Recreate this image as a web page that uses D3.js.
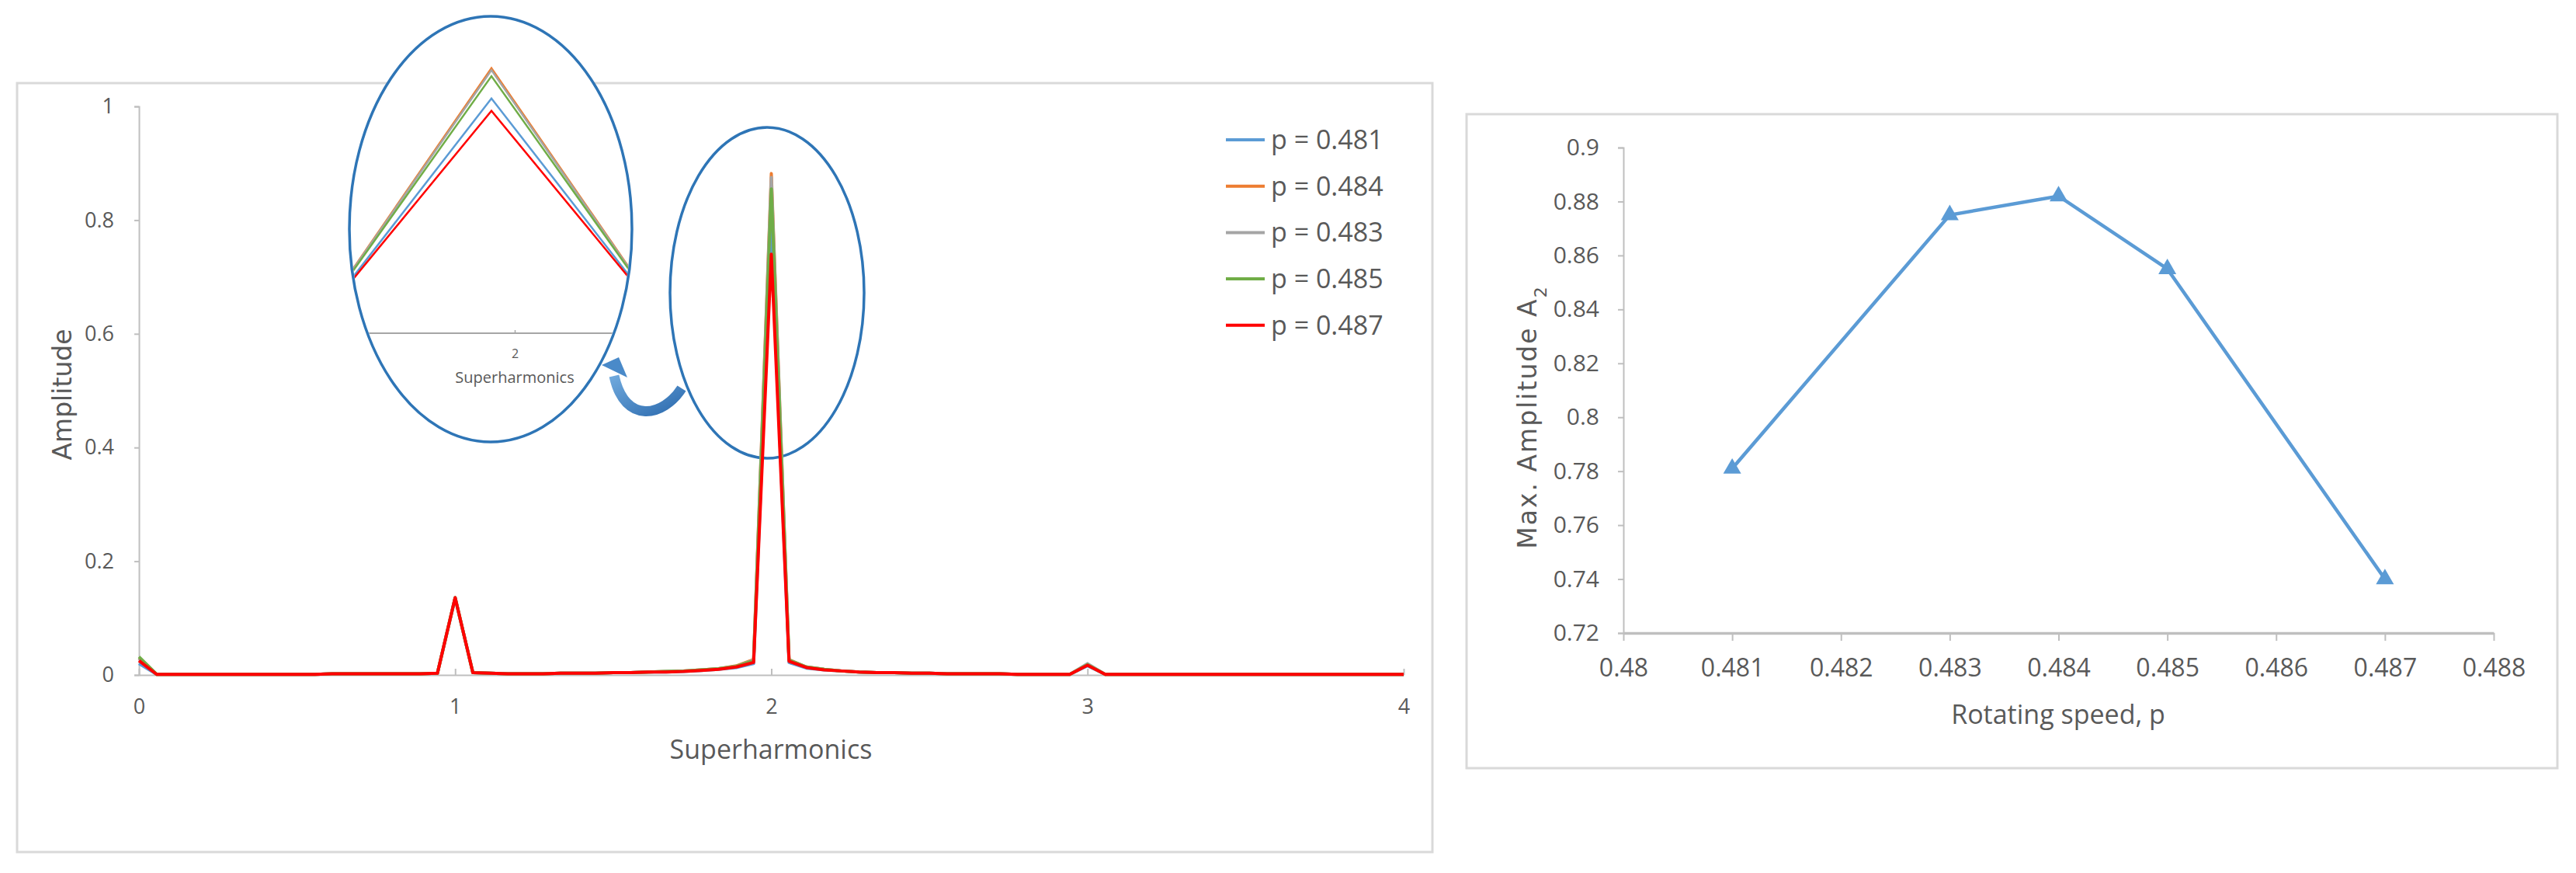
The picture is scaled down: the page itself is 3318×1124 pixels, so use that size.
<!DOCTYPE html>
<html><head><meta charset="utf-8">
<script src="https://cdn.jsdelivr.net/npm/d3@7"></script>
<style>
html,body{margin:0;padding:0;background:#fff;}
text{font-family:"Open Sans",sans-serif;fill:#595959;}
</style></head>
<body>
<script>
// ---------- DATA ----------
const harmonics = [0,0.056,0.111,0.167,0.222,0.278,0.333,0.389,0.444,0.5,0.556,0.611,0.667,0.722,0.778,0.833,0.889,0.944,1,1.056,1.111,1.167,1.222,1.278,1.333,1.389,1.444,1.5,1.556,1.611,1.667,1.722,1.778,1.833,1.889,1.944,2,2.056,2.111,2.167,2.222,2.278,2.333,2.389,2.444,2.5,2.556,2.611,2.667,2.722,2.778,2.833,2.889,2.944,3,3.056,3.111,3.167,3.222,3.278,3.333,3.389,3.444,3.5,3.556,3.611,3.667,3.722,3.778,3.833,3.889,3.944,4];

const amp481 = [0.020,0.001,0.001,0.001,0.001,0.001,0.001,0.001,0.001,0.001,0.001,0.002,0.002,0.002,0.002,0.002,0.002,0.003,0.135,0.004,0.003,0.002,0.002,0.002,0.003,0.003,0.003,0.004,0.004,0.005,0.005,0.006,0.008,0.010,0.013,0.020,0.781,0.022,0.012,0.009,0.007,0.005,0.004,0.004,0.003,0.003,0.002,0.002,0.002,0.002,0.001,0.001,0.001,0.001,0.016,0.001,0.001,0.001,0.001,0.001,0.001,0.001,0.001,0.001,0.001,0.001,0.001,0.001,0.001,0.001,0.001,0.001,0.001];
const amp484 = [0.030,0.001,0.001,0.001,0.001,0.001,0.001,0.001,0.001,0.001,0.001,0.002,0.002,0.002,0.002,0.002,0.002,0.003,0.136,0.004,0.003,0.002,0.002,0.002,0.003,0.003,0.003,0.004,0.004,0.005,0.006,0.007,0.009,0.011,0.016,0.027,0.882,0.027,0.014,0.010,0.007,0.005,0.004,0.004,0.003,0.003,0.002,0.002,0.002,0.002,0.001,0.001,0.001,0.001,0.018,0.001,0.001,0.001,0.001,0.001,0.001,0.001,0.001,0.001,0.001,0.001,0.001,0.001,0.001,0.001,0.001,0.001,0.001];
const amp483 = [0.029,0.001,0.001,0.001,0.001,0.001,0.001,0.001,0.001,0.001,0.001,0.002,0.002,0.002,0.002,0.002,0.002,0.003,0.136,0.004,0.003,0.002,0.002,0.002,0.003,0.003,0.003,0.004,0.004,0.005,0.006,0.007,0.009,0.011,0.015,0.026,0.875,0.026,0.014,0.010,0.007,0.005,0.004,0.004,0.003,0.003,0.002,0.002,0.002,0.002,0.001,0.001,0.001,0.001,0.020,0.001,0.001,0.001,0.001,0.001,0.001,0.001,0.001,0.001,0.001,0.001,0.001,0.001,0.001,0.001,0.001,0.001,0.001];
const amp485 = [0.032,0.001,0.001,0.001,0.001,0.001,0.001,0.001,0.001,0.001,0.001,0.002,0.002,0.002,0.002,0.002,0.002,0.003,0.136,0.004,0.003,0.002,0.002,0.002,0.003,0.003,0.003,0.004,0.004,0.005,0.006,0.007,0.009,0.011,0.015,0.025,0.855,0.026,0.014,0.010,0.007,0.005,0.004,0.004,0.003,0.003,0.002,0.002,0.002,0.002,0.001,0.001,0.001,0.001,0.018,0.001,0.001,0.001,0.001,0.001,0.001,0.001,0.001,0.001,0.001,0.001,0.001,0.001,0.001,0.001,0.001,0.001,0.001];
const amp487 = [0.025,0.001,0.001,0.001,0.001,0.001,0.001,0.001,0.001,0.001,0.001,0.002,0.002,0.002,0.002,0.002,0.002,0.003,0.136,0.004,0.003,0.002,0.002,0.002,0.003,0.003,0.003,0.004,0.004,0.005,0.005,0.006,0.008,0.010,0.014,0.022,0.740,0.024,0.013,0.009,0.007,0.005,0.004,0.004,0.003,0.003,0.002,0.002,0.002,0.002,0.001,0.001,0.001,0.001,0.017,0.001,0.001,0.001,0.001,0.001,0.001,0.001,0.001,0.001,0.001,0.001,0.001,0.001,0.001,0.001,0.001,0.001,0.001];

const seriesNames = ["p = 0.481","p = 0.484","p = 0.483","p = 0.485","p = 0.487"];
const seriesColors = ["#5B9BD5","#ED7D31","#A5A5A5","#70AD47","#FF0000"];
const seriesValues = [amp481, amp484, amp483, amp485, amp487];

const mainXTicks = [0,1,2,3,4];
const mainYTicks = [0,0.2,0.4,0.6,0.8,1];
const insetXTicks = [2];

const speeds = [0.481,0.483,0.484,0.485,0.487];
const maxAmp = [0.781,0.875,0.882,0.855,0.740];
const speedTicks = [0.480,0.481,0.482,0.483,0.484,0.485,0.486,0.487,0.488];
const maxAmpTicks = [0.72,0.74,0.76,0.78,0.80,0.82,0.84,0.86,0.88,0.90];

// ---------- DRAW ----------
const W = 3318, H = 1124;
const svg = d3.select("body").append("svg").attr("width", W).attr("height", H);
const defs = svg.append("defs");

// panel frames
svg.append("rect").attr("x",22).attr("y",107).attr("width",1823).attr("height",990)
  .attr("fill","#fff").attr("stroke","#D9D9D9").attr("stroke-width",3);
svg.append("rect").attr("x",1889).attr("y",147).attr("width",1405).attr("height",842)
  .attr("fill","#fff").attr("stroke","#D9D9D9").attr("stroke-width",3);

// ===== main chart =====
const x = d3.scaleLinear().domain([0,4]).range([179,1808]);
const y = d3.scaleLinear().domain([0,1]).range([869,137]);

const gy = svg.append("g").attr("transform",`translate(${x(0)},0)`)
  .call(d3.axisLeft(y).tickValues(mainYTicks).tickSize(6).tickPadding(26).tickFormat(d3.format("~g")));
gy.select(".domain").attr("stroke","#BFBFBF").attr("stroke-width",2);
gy.selectAll(".tick line").attr("stroke","#BFBFBF").attr("stroke-width",2);
gy.selectAll(".tick text").style("font-size","27px").attr("fill","#595959");

const gx = svg.append("g").attr("transform",`translate(0,${y(0)})`)
  .call(d3.axisBottom(x).tickValues(mainXTicks).tickSizeInner(-8).tickSizeOuter(0).tickPadding(0).tickFormat(d3.format("d")));
gx.select(".domain").attr("stroke","#BFBFBF").attr("stroke-width",2);
gx.selectAll(".tick line").attr("stroke","#BFBFBF").attr("stroke-width",2);
gx.selectAll(".tick text").style("font-size","27px").attr("y",41).attr("dy","0.35em").attr("fill","#595959");

svg.append("text").attr("x",993).attr("y",965).attr("text-anchor","middle").attr("dy","0.35em")
  .style("font-size","34px").text("Superharmonics");
svg.append("text").attr("transform","translate(80,508) rotate(-90)").attr("text-anchor","middle").attr("dy","0.35em")
  .style("font-family","'DejaVu Sans',sans-serif").style("font-size","33px").text("Amplitude");

// ellipse around main peak
svg.append("ellipse").attr("cx",988).attr("cy",377).attr("rx",125).attr("ry",213)
  .attr("fill","none").attr("stroke","#2E75B6").attr("stroke-width",3.5);

const line = d3.line().x((d,i)=>x(harmonics[i])).y(d=>y(d));
svg.append("g").selectAll("path").data(seriesValues).join("path")
  .attr("d", d=>line(d)).attr("fill","none")
  .attr("stroke",(d,i)=>seriesColors[i]).attr("stroke-width",4).attr("stroke-linejoin","round");

// legend
const lg = svg.append("g");
seriesNames.forEach((n,i)=>{
  const yy = 180 + i*59.7;
  lg.append("line").attr("x1",1579).attr("x2",1629).attr("y1",yy).attr("y2",yy)
    .attr("stroke",seriesColors[i]).attr("stroke-width",4);
  lg.append("text").attr("x",1637).attr("y",yy).attr("dy","0.35em").style("font-size","34px").text(n);
});

// ===== inset (zoom of peak at 2) =====
const insetCx = 632, insetCy = 295, insetRx = 182, insetRy = 274;
defs.append("clipPath").attr("id","insetClip").append("ellipse")
  .attr("cx",insetCx).attr("cy",insetCy).attr("rx",insetRx-2).attr("ry",insetRy-2);
svg.append("ellipse").attr("cx",insetCx).attr("cy",insetCy).attr("rx",insetRx).attr("ry",insetRy)
  .attr("fill","#fff").attr("stroke","none");
const xi = d3.scaleLinear().domain([1.9566,2.0434]).range([456,810]);
const yi = d3.scaleLinear().domain([0,1]).range([429,42]);
const inset = svg.append("g").attr("clip-path","url(#insetClip)");
const gxi = inset.append("g").attr("transform",`translate(30,${yi(0)})`)
  .call(d3.axisBottom(xi).tickValues(insetXTicks).tickSizeInner(-4).tickSizeOuter(0).tickPadding(0).tickFormat(d3.format("d")));
gxi.select(".domain").attr("d",`M${insetCx-insetRx-30},0H${insetCx+insetRx-30}`).attr("stroke","#A6A6A6").attr("stroke-width",2);
gxi.selectAll(".tick line").attr("stroke","#A6A6A6").attr("stroke-width",1.5);
gxi.selectAll(".tick text").style("font-size","16px").attr("y",26).attr("dy","0.35em").attr("fill","#595959");
inset.append("text").attr("x",663).attr("y",486).attr("text-anchor","middle").attr("dy","0.35em")
  .style("font-size","20px").text("Superharmonics");
const lineI = d3.line().x((d,i)=>xi(harmonics[i])).y(d=>yi(d));
inset.append("g").selectAll("path").data(seriesValues).join("path")
  .attr("d", d=>lineI(d)).attr("fill","none")
  .attr("stroke",(d,i)=>seriesColors[i]).attr("stroke-width",2.5).attr("stroke-linejoin","miter");
svg.append("ellipse").attr("cx",insetCx).attr("cy",insetCy).attr("rx",insetRx).attr("ry",insetRy)
  .attr("fill","none").attr("stroke","#2E75B6").attr("stroke-width",3.5);

// curved arrow
const grad = defs.append("linearGradient").attr("id","arrowGrad").attr("x1","0").attr("y1","0").attr("x2","1").attr("y2","1");
grad.append("stop").attr("offset","0").attr("stop-color","#6FA8DC");
grad.append("stop").attr("offset","1").attr("stop-color","#2E6DB0");
svg.append("path").attr("d","M878,500 C855,536 805,548 791,484")
  .attr("fill","none").attr("stroke","url(#arrowGrad)").attr("stroke-width",13);
svg.append("path").attr("d","M775,470 L797,460 L808,486 Z").attr("fill","#4A8AC9");

// ===== right chart =====
const xr = d3.scaleLinear().domain([0.480,0.488]).range([2091,3212]);
const yr = d3.scaleLinear().domain([0.72,0.90]).range([815,190]);

const gyr = svg.append("g").attr("transform",`translate(${xr(0.480)},0)`)
  .call(d3.axisLeft(yr).tickValues(maxAmpTicks).tickSize(7).tickPadding(24).tickFormat(d3.format("~g")));
gyr.select(".domain").attr("stroke","#BFBFBF").attr("stroke-width",2);
gyr.selectAll(".tick line").attr("stroke","#BFBFBF").attr("stroke-width",2);
gyr.selectAll(".tick text").style("font-size","30px").attr("fill","#595959");

const gxr = svg.append("g").attr("transform",`translate(0,${yr(0.72)})`)
  .call(d3.axisBottom(xr).tickValues(speedTicks).tickSize(10).tickSizeOuter(0).tickPadding(0).tickFormat(d3.format(".3~f")));
gxr.select(".domain").attr("stroke","#BFBFBF").attr("stroke-width",3.5);
gxr.selectAll(".tick line").attr("stroke","#BFBFBF").attr("stroke-width",2);
gxr.selectAll(".tick text").style("font-size","32px").attr("y",45).attr("dy","0.35em").attr("fill","#595959");

svg.append("text").attr("x",2651).attr("y",920).attr("text-anchor","middle").attr("dy","0.35em")
  .style("font-size","34px").text("Rotating speed, p");

const ylab = svg.append("text").attr("transform","translate(1967,537) rotate(-90)").attr("text-anchor","middle").attr("dy","0.35em")
  .style("font-family","'DejaVu Sans',sans-serif").style("font-size","33px").style("letter-spacing","2px");
ylab.append("tspan").text("Max. Amplitude A");
ylab.append("tspan").attr("baseline-shift","sub").style("font-size","22px").text("2");

const lineR = d3.line().x((d,i)=>xr(speeds[i])).y(d=>yr(d));
svg.append("path").attr("d",lineR(maxAmp)).attr("fill","none").attr("stroke","#5B9BD5").attr("stroke-width",4.5);
svg.append("g").selectAll("path").data(maxAmp).join("path")
  .attr("transform",(d,i)=>`translate(${xr(speeds[i])},${yr(d)})`)
  .attr("d", d3.symbol().type(d3.symbolTriangle).size(230)).attr("fill","#5B9BD5");
</script>
</body></html>
